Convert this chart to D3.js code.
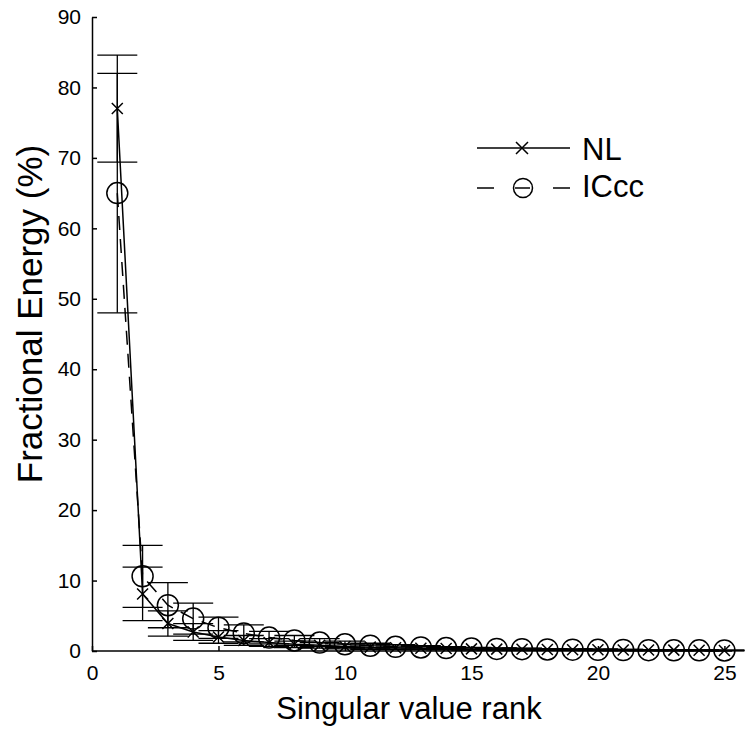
<!DOCTYPE html>
<html lang="en">
<head>
  <meta charset="UTF-8">
  <title>Fractional Energy vs Singular value rank</title>
  <script src="https://d3js.org/d3.v7.min.js"></script>
  <style>
    body { margin: 0; background: #fff; font-family: 'Liberation Sans', Arial, sans-serif; }
    .axis path, .axis line { stroke: #000; stroke-width: 1.5; }
    .axis text { font-size: 21px; fill: #000; }
    .series-line { fill: none; stroke: #000; stroke-width: 1.5; }
    .err { stroke: #000; stroke-width: 1.3; }
    .marker { fill: none; stroke: #000; stroke-width: 1.5; }
    .label { font-size: 31px; fill: #000; }
  </style>
</head>
<body>
  <svg width="750" height="738"></svg>
  <script>
    const rank = [1, 2, 3, 4, 5, 6, 7, 8, 9, 10, 11, 12, 13, 14, 15, 16, 17, 18, 19, 20, 21, 22, 23, 24, 25];
    const nlMean = [77, 8.1, 3.9, 2.7, 2.0, 1.5, 1.2, 0.95, 0.8, 0.65, 0.55, 0.45, 0.4, 0.35, 0.3, 0.27, 0.24, 0.21, 0.19, 0.17, 0.15, 0.13, 0.12, 0.1, 0.08];
    const nlErr = [7.6, 3.8, 1.8, 1.2, 0.9, 0.7, 0.55, 0.45, 0.4, 0.35, 0.3, 0.25, 0.2, 0.18, 0.15, 0.13, 0.12, 0.1, 0.09, 0.08, 0.07, 0.06, 0.05, 0.05, 0.04];
    const iccMean = [65, 10.6, 6.5, 4.6, 3.3, 2.5, 1.9, 1.5, 1.2, 0.95, 0.75, 0.6, 0.5, 0.42, 0.35, 0.3, 0.26, 0.22, 0.19, 0.16, 0.14, 0.12, 0.1, 0.09, 0.08];
    const iccErr = [17, 4.4, 3.2, 2.2, 1.5, 1.2, 0.9, 0.7, 0.55, 0.45, 0.35, 0.3, 0.25, 0.2, 0.17, 0.15, 0.13, 0.11, 0.1, 0.09, 0.08, 0.07, 0.06, 0.05, 0.05];
    const xTicks = [0, 5, 10, 15, 20, 25];
    const yTicks = [0, 10, 20, 30, 40, 50, 60, 70, 80, 90];

    const svg = d3.select("svg");
    const margin = { top: 17, right: 18, bottom: 87, left: 92 };
    const width = 750 - margin.left - margin.right;
    const height = 738 - margin.top - margin.bottom;
    const g = svg.append("g").attr("transform", `translate(${margin.left},${margin.top})`);

    const x = d3.scaleLinear().domain([0, 25.3]).range([0, width]);
    const y = d3.scaleLinear().domain([0, 90]).range([height, 0]);

    // axes, ticks pointing inward
    g.append("g")
      .attr("class", "axis")
      .attr("transform", `translate(0,${height})`)
      .call(d3.axisBottom(x).tickValues(xTicks).tickSize(-5).tickPadding(14).tickSizeOuter(0))
      .call(a => a.select(".domain").attr("d", `M0,0H${x(25.3)}`));

    g.append("g")
      .attr("class", "axis")
      .call(d3.axisLeft(y).tickValues(yTicks).tickSize(-5).tickPadding(11).tickSizeOuter(0));

    g.selectAll(".axis text").attr("font-family", "'Liberation Sans', Arial, sans-serif");

    const nl = rank.map((r, i) => ({ r, m: nlMean[i], e: nlErr[i] }));
    const icc = rank.map((r, i) => ({ r, m: iccMean[i], e: iccErr[i] }));
    const capW = 20;

    function errorBars(data) {
      const eg = g.append("g");
      eg.selectAll(".v").data(data).join("line")
        .attr("class", "err")
        .attr("x1", d => x(d.r)).attr("x2", d => x(d.r))
        .attr("y1", d => y(d.m + d.e)).attr("y2", d => y(Math.max(0, d.m - d.e)));
      eg.selectAll(".t").data(data).join("line")
        .attr("class", "err")
        .attr("x1", d => x(d.r) - capW).attr("x2", d => x(d.r) + capW)
        .attr("y1", d => y(d.m + d.e)).attr("y2", d => y(d.m + d.e));
      eg.selectAll(".b").data(data).join("line")
        .attr("class", "err")
        .attr("x1", d => x(d.r) - capW).attr("x2", d => x(d.r) + capW)
        .attr("y1", d => y(Math.max(0, d.m - d.e))).attr("y2", d => y(Math.max(0, d.m - d.e)));
    }

    errorBars(nl);
    errorBars(icc);

    const line = d3.line().x(d => x(d.r)).y(d => y(d.m));

    g.append("path").datum(nl).attr("class", "series-line").attr("d", line);
    g.append("path").datum(icc).attr("class", "series-line")
      .attr("stroke-dasharray", "14,9").attr("d", line);

    function cross(sel, cx, cy, s) {
      sel.append("path").attr("class", "marker")
        .attr("d", `M${cx - s},${cy - s}L${cx + s},${cy + s}M${cx - s},${cy + s}L${cx + s},${cy - s}`);
    }
    nl.forEach(d => cross(g, x(d.r), y(d.m), 5.5));

    g.selectAll(".circ").data(icc).join("circle")
      .attr("class", "marker")
      .attr("cx", d => x(d.r)).attr("cy", d => y(d.m)).attr("r", 10.5);

    // legend
    const lg = svg.append("g");
    lg.append("line").attr("class", "series-line")
      .attr("x1", 477).attr("x2", 570).attr("y1", 148).attr("y2", 148);
    cross(lg, 522, 148, 6);
    lg.append("text").attr("class", "label").attr("x", 582).attr("y", 160).text("NL");
    [[477, 494], [515, 530], [553, 570]].forEach(([a, b]) => {
      lg.append("line").attr("class", "series-line")
        .attr("x1", a).attr("x2", b).attr("y1", 188).attr("y2", 188);
    });
    lg.append("circle").attr("class", "marker").attr("cx", 523).attr("cy", 188).attr("r", 9.5);
    lg.append("text").attr("class", "label").attr("x", 582).attr("y", 197).text("ICcc");

    // axis titles
    svg.append("text").attr("class", "label")
      .attr("x", 409).attr("y", 719)
      .attr("text-anchor", "middle").text("Singular value rank");
    svg.append("text").attr("class", "label")
      .style("font-size", "35px")
      .attr("transform", "translate(42,314) rotate(-90)")
      .attr("text-anchor", "middle").text("Fractional Energy (%)");
  </script>
</body>
</html>
